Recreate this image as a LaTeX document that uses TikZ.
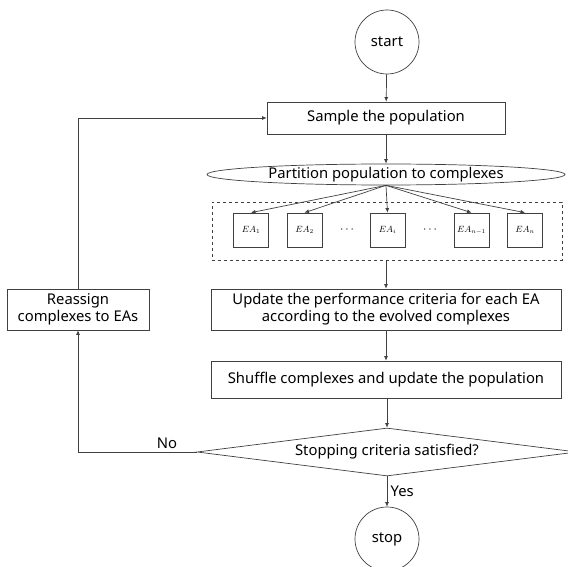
\documentclass[tikz,border=0pt]{standalone}
\usepackage{fontspec}
\setmainfont{Noto Sans}
\usetikzlibrary{shapes.geometric,arrows.meta}

\begin{document}
\begin{tikzpicture}[x=1pt,y=-1pt,
    line/.style={draw=black!75,line width=0.7pt},
    arr/.style={line,-{Latex[length=4.5pt,width=4pt]}},
    txt/.style={font=\fontsize{14.8}{17}\selectfont},
    box/.style={line,txt,rectangle,inner sep=0pt,align=center},
    term/.style={line,txt,circle,minimum size=64pt,inner sep=0pt},
    eabox/.style={line,rectangle,minimum width=35pt,minimum height=34pt,inner sep=0pt,font=\small}]
    \useasboundingbox (0,0) rectangle (568,567);

    \node [term] (start) at (387,42) {start};
    \node [box,minimum width=238pt,minimum height=32pt] (sample) at (386,118) {Sample the population};
    \node [line,txt,ellipse,minimum width=358pt,minimum height=21pt,inner sep=0pt] (part) at (386,174.5) {Partition population to complexes};

    \node [line,dashed,rectangle,minimum width=350pt,minimum height=58pt] (group) at (387,231) {};
    \node [eabox] (ea1) at (251,230) {$EA_1$};
    \node [eabox] (ea2) at (304.5,230) {$EA_2$};
    \node [eabox] (eai) at (387.5,230) {$EA_i$};
    \node [eabox] (ean1) at (471.5,230) {$EA_{n-1}$};
    \node [eabox] (ean) at (525,230) {$EA_n$};
    \node [font=\large] (dots1) at (347,230) {$\cdots$};
    \node [font=\large] (dots2) at (430,230) {$\cdots$};

    \node [box,minimum width=350pt,minimum height=41pt] (update) at (386,309.5) {Update the performance criteria for each EA\\according to the evolved complexes};
    \node [box,minimum width=350pt,minimum height=37pt] (shuffle) at (386,379.5) {Shuffle complexes and update the population};
    \node [line,txt,diamond,aspect=7.9,minimum width=380pt,minimum height=48pt,inner sep=0pt] (stopq) at (387,452) {Stopping criteria satisfied?};
    \node [term] (stop) at (387,539) {stop};
    \node [box,minimum width=142pt,minimum height=41pt] (reassign) at (78,309.5) {Reassign\\complexes to EAs};

    \coordinate (corner1) at (78,452);
    \coordinate (corner2) at (78,118);

    \draw [arr] (start) -- (sample);
    \draw [arr] (sample) -- (part);
    \foreach \ea in {ea1,ea2,eai,ean1,ean}
        \draw [arr] (part.south) -- (\ea.north);
    \draw [arr] (group.south -| update.north) -- (update);
    \draw [arr] (update) -- (shuffle);
    \draw [arr] (shuffle.south -| stopq.north) -- (stopq);
    \draw [arr] (stopq) -- node [txt,right] {Yes} (stop);
    \draw [arr] (stopq.west) -- node [txt,above,pos=0.25] {No} (corner1) -- (reassign);
    \draw [arr] (reassign) -- (corner2) -- (sample);
\end{tikzpicture}
\end{document}
